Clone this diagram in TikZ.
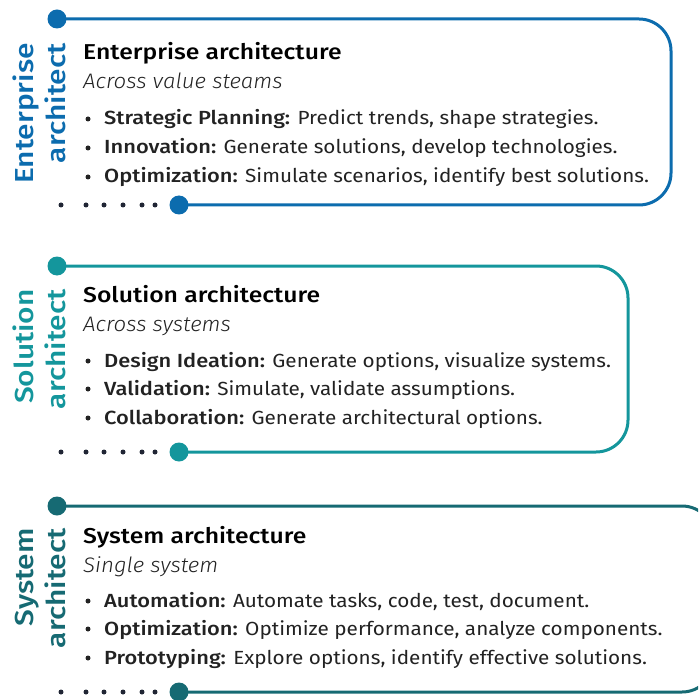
\documentclass[tikz,border=0pt]{standalone}
\usepackage{fontspec}
\setmainfont{Fira Sans}[UprightFeatures={FakeStretch=1.09},BoldFont={Fira Sans Medium},BoldFeatures={FakeStretch=1.15},ItalicFont={Fira Sans Light Italic},ItalicFeatures={FakeStretch=1.06}]
\definecolor{cblue}{RGB}{12,108,174}
\definecolor{cteal}{RGB}{20,150,156}
\definecolor{cdark}{RGB}{22,106,115}
\definecolor{ctext}{RGB}{34,34,34}
\definecolor{cdots}{RGB}{32,37,52}
\tikzset{
  bigdot/.style={circle, fill=#1, inner sep=0pt, minimum size=19pt},
  smalldot/.style={circle, fill=cdots, inner sep=0pt, minimum size=5pt},
  frame/.style={line width=3pt, draw=#1, rounded corners=32pt},
  vlabel/.style={rotate=90, anchor=base east, inner sep=0pt, font=\fontsize{26}{26}\selectfont\bfseries, text=#1},
  ttl/.style={anchor=base west, inner sep=0pt, font=\fontsize{21.5}{22}\selectfont\bfseries, text=black},
  sub/.style={anchor=base west, inner sep=0pt, font=\fontsize{21}{22}\selectfont\itshape, text=ctext},
  item/.style={anchor=base west, inner sep=0pt, font=\fontsize{19}{20}\selectfont, text=ctext},
  bul/.style={circle, fill=ctext, inner sep=0pt, minimum size=5pt},
}
\begin{document}
\begin{tikzpicture}[x=1pt, y=-1pt]
\useasboundingbox (0,0) rectangle (698,700);
% ---------- Panel 1 ----------
\node[bigdot=cblue] (t1) at (57,19) {};
\node[bigdot=cblue] (b1) at (179,205) {};
\coordinate (r1a) at (671,19);
\coordinate (r1b) at (671,205);
\draw[frame=cblue] (t1.center) -- (r1a) -- (r1b) -- (b1.center);
\foreach \x [count=\i] in {61,86,104,123,142,155} \node[smalldot] (d1\i) at (\x,205) {};
\node[vlabel=cblue] (v1a) at (33,43) {Enterprise};
\node[vlabel=cblue] (v1b) at (65,43) {architect};
\node[ttl] (h1) at (83,60) {Enterprise architecture};
\node[sub] (s1) at (83,89) {Across value steams};
\node[bul] (p11) at (88,119) {};
\node[bul] (p12) at (88,148) {};
\node[bul] (p13) at (88,177) {};
\node[item] (i11) at (104,125) {\textbf{Strategic Planning:} Predict trends, shape strategies.};
\node[item] (i12) at (104,154) {\textbf{Innovation:} Generate solutions, develop technologies.};
\node[item] (i13) at (104,183) {\textbf{Optimization:} Simulate scenarios, identify best solutions.};
% ---------- Panel 2 ----------
\node[bigdot=cteal] (t2) at (57,266) {};
\node[bigdot=cteal] (b2) at (179,452) {};
\coordinate (r2a) at (628,266);
\coordinate (r2b) at (628,452);
\draw[frame=cteal] (t2.center) -- (r2a) -- (r2b) -- (b2.center);
\foreach \x [count=\i] in {61,86,104,123,142,155} \node[smalldot] (d2\i) at (\x,452) {};
\node[vlabel=cteal] (v2a) at (33,289) {Solution};
\node[vlabel=cteal] (v2b) at (65,289) {architect};
\node[ttl] (h2) at (83,302) {Solution architecture};
\node[sub] (s2) at (83,331) {Across systems};
\node[bul] (p21) at (88,361) {};
\node[bul] (p22) at (88,389) {};
\node[bul] (p23) at (88,418) {};
\node[item] (i21) at (104,367) {\textbf{Design Ideation:} Generate options, visualize systems.};
\node[item] (i22) at (104,395) {\textbf{Validation:} Simulate, validate assumptions.};
\node[item] (i23) at (104,424) {\textbf{Collaboration:} Generate architectural options.};
% ---------- Panel 3 ----------
\node[bigdot=cdark] (t3) at (57,506) {};
\node[bigdot=cdark] (b3) at (179,692) {};
\coordinate (r3a) at (714,506);
\coordinate (r3b) at (714,692);
\begin{scope}
\clip (0,0) rectangle (698,700);
\draw[frame=cdark] (t3.center) -- (r3a) -- (r3b) -- (b3.center);
\end{scope}
\foreach \x [count=\i] in {61,86,104,123,142,155} \node[smalldot] (d3\i) at (\x,692) {};
\node[vlabel=cdark] (v3a) at (33,528) {System};
\node[vlabel=cdark] (v3b) at (65,528) {architect};
\node[ttl] (h3) at (83,543) {System architecture};
\node[sub] (s3) at (83,572) {Single system};
\node[bul] (p31) at (88,601) {};
\node[bul] (p32) at (88,629) {};
\node[bul] (p33) at (88,658) {};
\node[item] (i31) at (104,607) {\textbf{Automation:} Automate tasks, code, test, document.};
\node[item] (i32) at (104,635) {\textbf{Optimization:} Optimize performance, analyze components.};
\node[item] (i33) at (104,664) {\textbf{Prototyping:} Explore options, identify effective solutions.};
\end{tikzpicture}
\end{document}
